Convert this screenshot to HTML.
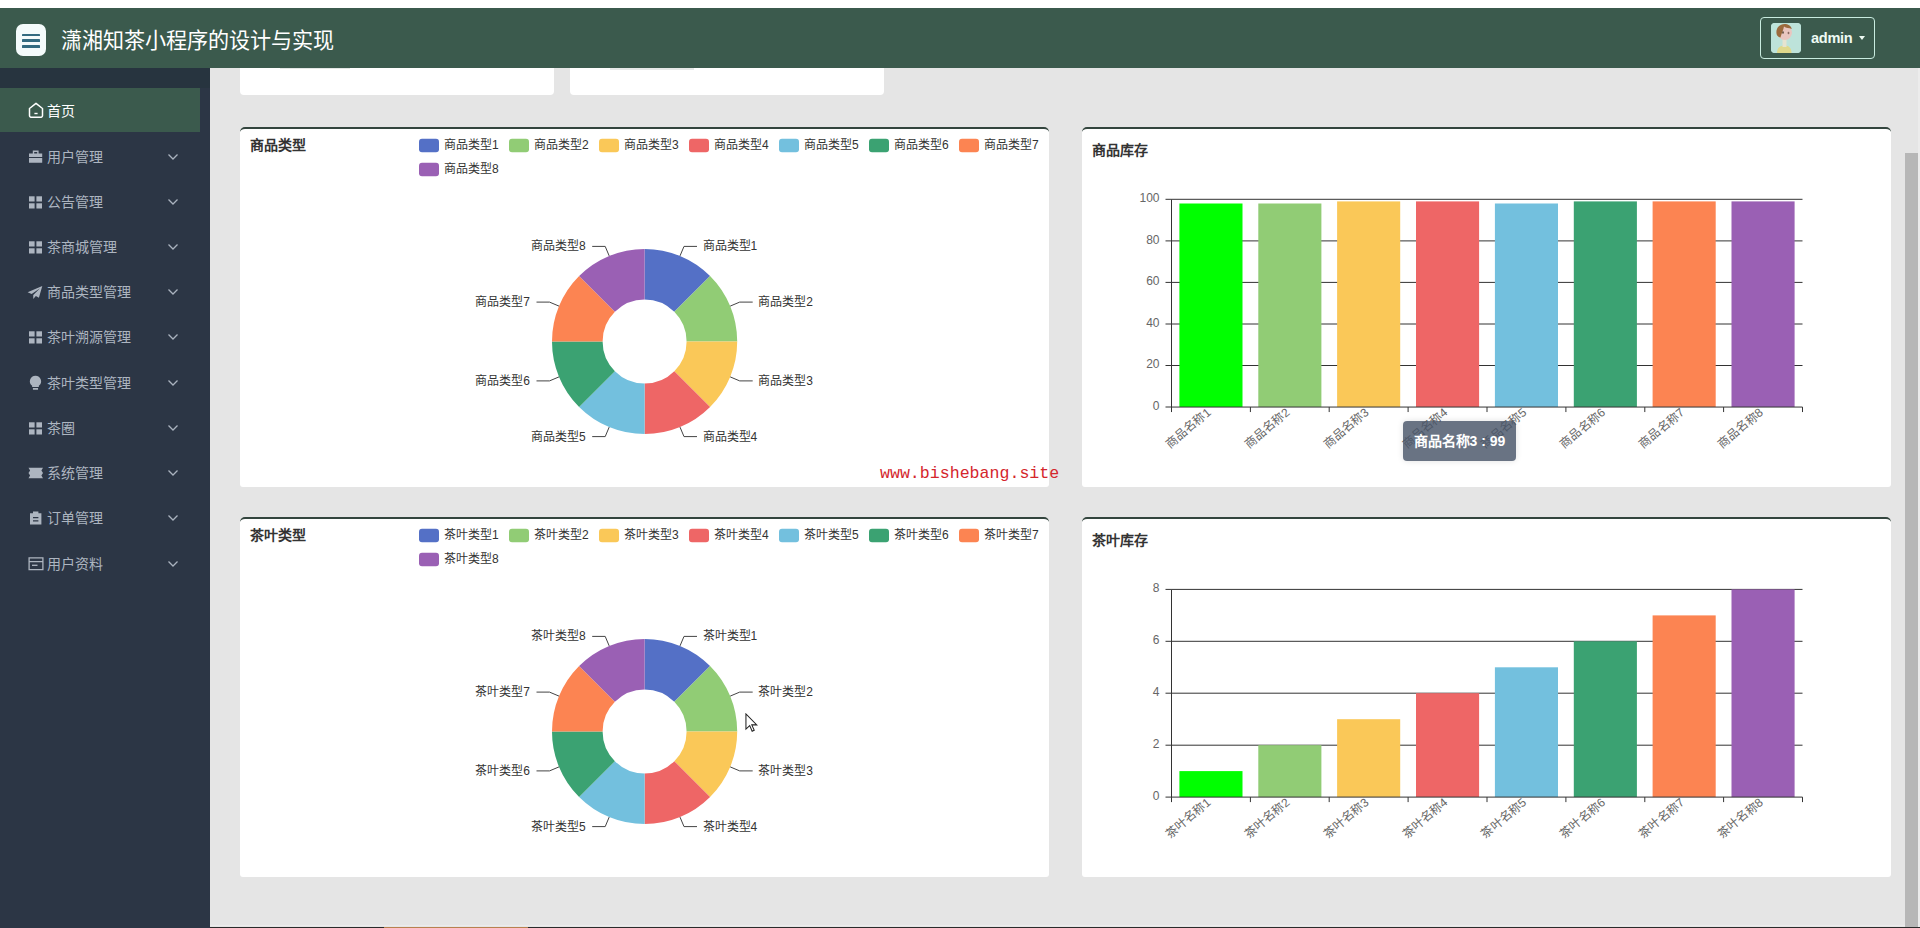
<!DOCTYPE html>
<html lang="zh-CN"><head><meta charset="utf-8"><title>dashboard</title>
<style>
*{box-sizing:border-box;margin:0;padding:0}
html,body{width:1920px;height:928px;overflow:hidden}
body{position:relative;background:#e5e5e5;font-family:"Liberation Sans",sans-serif;color:#333}
.strip{position:absolute;left:0;top:0;width:1920px;height:8px;background:#fff}
.hdr{position:absolute;left:0;top:8px;width:1920px;height:60px;background:#3b5a4d}
.mbtn{position:absolute;left:16px;top:16px;width:30px;height:32px;background:#f4fbfb;border-radius:7px}
.mbtn i{position:absolute;left:6.3px;width:17.6px;height:2.7px;border-radius:.6px;background:#336b80}
.ttl{position:absolute;left:61px;top:17.6px;font-size:21.1px;line-height:30px;color:#fff;letter-spacing:0;white-space:nowrap}
.adm{position:absolute;left:1760px;top:9px;width:115px;height:42px;border:1px solid #c9ece0;border-radius:4px}
.adm .av{position:absolute;left:10px;top:5px;width:30px;height:30px;border-radius:4px;background:#b8ddd6;overflow:hidden}
.adm .nm{position:absolute;left:50px;top:10px;font-size:14.6px;line-height:20px;color:#eefaf4;font-weight:bold;letter-spacing:-.3px}
.adm .ca{position:absolute;left:98px;top:18px;width:0;height:0;border:3.5px solid transparent;border-top:4px solid #eefaf4}
.side{position:absolute;left:0;top:68px;width:210px;height:860px;background:#2c3645}
.side .sh{position:absolute;left:0;top:0;width:210px;height:20px;background:#27343f}
.home{position:absolute;left:0;top:20px;width:200px;height:44px;background:#3b5a4d;color:#fff;font-size:14px}
.home span{position:absolute;left:47px;top:15px;line-height:16px}
.home svg{position:absolute;left:27.9px;top:14.4px}
.mi{position:absolute;left:0;width:200px;height:45px;color:#adb5c0;font-size:14px;margin-top:-68px}
.mi span{position:absolute;left:47px;top:14px;line-height:16px;white-space:nowrap}
.mi .ic{position:absolute;left:29px;top:15px;fill:#adb5c0;color:#adb5c0}
.mi .ar{position:absolute;left:167px;top:18px}
.tc{position:absolute;top:60px;height:35px;background:#fff;border-radius:0 0 4px 4px}
.card{position:absolute;width:809px;height:360px;background:#fff;border-top:2px solid #33453e;border-radius:5px 5px 3px 3px}
.ct{position:absolute;font-size:14px;font-weight:bold;line-height:16px;color:#333}
.wm{position:absolute;left:880px;top:464.2px;font-family:"Liberation Mono",monospace;font-size:16.6px;line-height:20px;color:#d4262c;white-space:nowrap}
.tip{position:absolute;left:1403px;top:421px;width:113px;height:40px;background:rgba(72,84,104,.82);box-shadow:0 0 6px rgba(0,0,0,.12);border-radius:4px;color:#fff;font-size:14px;font-weight:bold;line-height:40px;text-align:center;white-space:nowrap}
.sb{position:absolute;left:1905px;top:153px;width:13px;height:775px;background:#b7b7b7}
.sbt{position:absolute;left:1905px;top:68px;width:15px;height:860px;background:#e9e9e9}
svg text{font-family:"Liberation Sans",sans-serif}
.chart{position:absolute;left:0;top:0}
</style></head><body>
<div class="tc" style="left:240px;width:314px"></div>
<div class="tc" style="left:570px;width:314px"></div>
<div style="position:absolute;left:610px;top:68px;width:84px;height:2px;background:#e6e9e8"></div>
<div style="position:absolute;left:280px;top:68px;width:70px;height:1px;background:#e3e6e5"></div>
<div class="card" style="left:240px;top:127px"></div>
<div class="card" style="left:1082px;top:127px"></div>
<div class="card" style="left:240px;top:517px"></div>
<div class="card" style="left:1082px;top:517px"></div>
<div class="ct" style="left:250px;top:137px">商品类型</div>
<div class="ct" style="left:1092px;top:142px">商品库存</div>
<div class="ct" style="left:250px;top:527px">茶叶类型</div>
<div class="ct" style="left:1092px;top:532px">茶叶库存</div>
<svg class="chart" width="1920" height="928" viewBox="0 0 1920 928">
<rect x="419" y="138.7" width="20" height="13.6" rx="3" fill="#5470c6"/>
<text x="444" y="149" font-size="12" fill="#333">商品类型1</text>
<rect x="509" y="138.7" width="20" height="13.6" rx="3" fill="#91cc75"/>
<text x="534" y="149" font-size="12" fill="#333">商品类型2</text>
<rect x="599" y="138.7" width="20" height="13.6" rx="3" fill="#fac858"/>
<text x="624" y="149" font-size="12" fill="#333">商品类型3</text>
<rect x="689" y="138.7" width="20" height="13.6" rx="3" fill="#ee6666"/>
<text x="714" y="149" font-size="12" fill="#333">商品类型4</text>
<rect x="779" y="138.7" width="20" height="13.6" rx="3" fill="#73c0de"/>
<text x="804" y="149" font-size="12" fill="#333">商品类型5</text>
<rect x="869" y="138.7" width="20" height="13.6" rx="3" fill="#3ba272"/>
<text x="894" y="149" font-size="12" fill="#333">商品类型6</text>
<rect x="959" y="138.7" width="20" height="13.6" rx="3" fill="#fc8452"/>
<text x="984" y="149" font-size="12" fill="#333">商品类型7</text>
<rect x="419" y="162.7" width="20" height="13.6" rx="3" fill="#9a60b4"/>
<text x="444" y="173" font-size="12" fill="#333">商品类型8</text>
<path d="M644.60 248.90A92.6 92.6 0 0 1 710.08 276.02L674.30 311.80A42.0 42.0 0 0 0 644.60 299.50Z" fill="#5470c6"/>
<polyline points="680.0,255.9 684.0,246.4 697.0,246.4" fill="none" stroke="#444" stroke-width="1"/>
<text x="702.5" y="250.4" text-anchor="start" font-size="12" fill="#333">商品类型1</text>
<path d="M710.08 276.02A92.6 92.6 0 0 1 737.20 341.50L686.60 341.50A42.0 42.0 0 0 0 674.30 311.80Z" fill="#91cc75"/>
<polyline points="730.2,306.1 739.7,302.1 752.7,302.1" fill="none" stroke="#444" stroke-width="1"/>
<text x="758.2" y="306.1" text-anchor="start" font-size="12" fill="#333">商品类型2</text>
<path d="M737.20 341.50A92.6 92.6 0 0 1 710.08 406.98L674.30 371.20A42.0 42.0 0 0 0 686.60 341.50Z" fill="#fac858"/>
<polyline points="730.2,376.9 739.7,380.9 752.7,380.9" fill="none" stroke="#444" stroke-width="1"/>
<text x="758.2" y="384.9" text-anchor="start" font-size="12" fill="#333">商品类型3</text>
<path d="M710.08 406.98A92.6 92.6 0 0 1 644.60 434.10L644.60 383.50A42.0 42.0 0 0 0 674.30 371.20Z" fill="#ee6666"/>
<polyline points="680.0,427.1 684.0,436.6 697.0,436.6" fill="none" stroke="#444" stroke-width="1"/>
<text x="702.5" y="440.6" text-anchor="start" font-size="12" fill="#333">商品类型4</text>
<path d="M644.60 434.10A92.6 92.6 0 0 1 579.12 406.98L614.90 371.20A42.0 42.0 0 0 0 644.60 383.50Z" fill="#73c0de"/>
<polyline points="609.2,427.1 605.2,436.6 592.2,436.6" fill="none" stroke="#444" stroke-width="1"/>
<text x="585.7" y="440.6" text-anchor="end" font-size="12" fill="#333">商品类型5</text>
<path d="M579.12 406.98A92.6 92.6 0 0 1 552.00 341.50L602.60 341.50A42.0 42.0 0 0 0 614.90 371.20Z" fill="#3ba272"/>
<polyline points="559.0,376.9 549.5,380.9 536.5,380.9" fill="none" stroke="#444" stroke-width="1"/>
<text x="530.0" y="384.9" text-anchor="end" font-size="12" fill="#333">商品类型6</text>
<path d="M552.00 341.50A92.6 92.6 0 0 1 579.12 276.02L614.90 311.80A42.0 42.0 0 0 0 602.60 341.50Z" fill="#fc8452"/>
<polyline points="559.0,306.1 549.5,302.1 536.5,302.1" fill="none" stroke="#444" stroke-width="1"/>
<text x="530.0" y="306.1" text-anchor="end" font-size="12" fill="#333">商品类型7</text>
<path d="M579.12 276.02A92.6 92.6 0 0 1 644.60 248.90L644.60 299.50A42.0 42.0 0 0 0 614.90 311.80Z" fill="#9a60b4"/>
<polyline points="609.2,255.9 605.2,246.4 592.2,246.4" fill="none" stroke="#444" stroke-width="1"/>
<text x="585.7" y="250.4" text-anchor="end" font-size="12" fill="#333">商品类型8</text>
<rect x="419" y="528.7" width="20" height="13.6" rx="3" fill="#5470c6"/>
<text x="444" y="539" font-size="12" fill="#333">茶叶类型1</text>
<rect x="509" y="528.7" width="20" height="13.6" rx="3" fill="#91cc75"/>
<text x="534" y="539" font-size="12" fill="#333">茶叶类型2</text>
<rect x="599" y="528.7" width="20" height="13.6" rx="3" fill="#fac858"/>
<text x="624" y="539" font-size="12" fill="#333">茶叶类型3</text>
<rect x="689" y="528.7" width="20" height="13.6" rx="3" fill="#ee6666"/>
<text x="714" y="539" font-size="12" fill="#333">茶叶类型4</text>
<rect x="779" y="528.7" width="20" height="13.6" rx="3" fill="#73c0de"/>
<text x="804" y="539" font-size="12" fill="#333">茶叶类型5</text>
<rect x="869" y="528.7" width="20" height="13.6" rx="3" fill="#3ba272"/>
<text x="894" y="539" font-size="12" fill="#333">茶叶类型6</text>
<rect x="959" y="528.7" width="20" height="13.6" rx="3" fill="#fc8452"/>
<text x="984" y="539" font-size="12" fill="#333">茶叶类型7</text>
<rect x="419" y="552.7" width="20" height="13.6" rx="3" fill="#9a60b4"/>
<text x="444" y="563" font-size="12" fill="#333">茶叶类型8</text>
<path d="M644.60 638.90A92.6 92.6 0 0 1 710.08 666.02L674.30 701.80A42.0 42.0 0 0 0 644.60 689.50Z" fill="#5470c6"/>
<polyline points="680.0,645.9 684.0,636.4 697.0,636.4" fill="none" stroke="#444" stroke-width="1"/>
<text x="702.5" y="640.4" text-anchor="start" font-size="12" fill="#333">茶叶类型1</text>
<path d="M710.08 666.02A92.6 92.6 0 0 1 737.20 731.50L686.60 731.50A42.0 42.0 0 0 0 674.30 701.80Z" fill="#91cc75"/>
<polyline points="730.2,696.1 739.7,692.1 752.7,692.1" fill="none" stroke="#444" stroke-width="1"/>
<text x="758.2" y="696.1" text-anchor="start" font-size="12" fill="#333">茶叶类型2</text>
<path d="M737.20 731.50A92.6 92.6 0 0 1 710.08 796.98L674.30 761.20A42.0 42.0 0 0 0 686.60 731.50Z" fill="#fac858"/>
<polyline points="730.2,766.9 739.7,770.9 752.7,770.9" fill="none" stroke="#444" stroke-width="1"/>
<text x="758.2" y="774.9" text-anchor="start" font-size="12" fill="#333">茶叶类型3</text>
<path d="M710.08 796.98A92.6 92.6 0 0 1 644.60 824.10L644.60 773.50A42.0 42.0 0 0 0 674.30 761.20Z" fill="#ee6666"/>
<polyline points="680.0,817.1 684.0,826.6 697.0,826.6" fill="none" stroke="#444" stroke-width="1"/>
<text x="702.5" y="830.6" text-anchor="start" font-size="12" fill="#333">茶叶类型4</text>
<path d="M644.60 824.10A92.6 92.6 0 0 1 579.12 796.98L614.90 761.20A42.0 42.0 0 0 0 644.60 773.50Z" fill="#73c0de"/>
<polyline points="609.2,817.1 605.2,826.6 592.2,826.6" fill="none" stroke="#444" stroke-width="1"/>
<text x="585.7" y="830.6" text-anchor="end" font-size="12" fill="#333">茶叶类型5</text>
<path d="M579.12 796.98A92.6 92.6 0 0 1 552.00 731.50L602.60 731.50A42.0 42.0 0 0 0 614.90 761.20Z" fill="#3ba272"/>
<polyline points="559.0,766.9 549.5,770.9 536.5,770.9" fill="none" stroke="#444" stroke-width="1"/>
<text x="530.0" y="774.9" text-anchor="end" font-size="12" fill="#333">茶叶类型6</text>
<path d="M552.00 731.50A92.6 92.6 0 0 1 579.12 666.02L614.90 701.80A42.0 42.0 0 0 0 602.60 731.50Z" fill="#fc8452"/>
<polyline points="559.0,696.1 549.5,692.1 536.5,692.1" fill="none" stroke="#444" stroke-width="1"/>
<text x="530.0" y="696.1" text-anchor="end" font-size="12" fill="#333">茶叶类型7</text>
<path d="M579.12 666.02A92.6 92.6 0 0 1 644.60 638.90L644.60 689.50A42.0 42.0 0 0 0 614.90 701.80Z" fill="#9a60b4"/>
<polyline points="609.2,645.9 605.2,636.4 592.2,636.4" fill="none" stroke="#444" stroke-width="1"/>
<text x="585.7" y="640.4" text-anchor="end" font-size="12" fill="#333">茶叶类型8</text>
<line x1="1165.5" y1="407.0" x2="1171.5" y2="407.0" stroke="#333" stroke-width="1"/>
<text x="1159.5" y="409.9" text-anchor="end" font-size="12" fill="#666">0</text>
<line x1="1171.5" y1="365.5" x2="1802.5" y2="365.5" stroke="#333" stroke-width="1"/>
<line x1="1165.5" y1="365.5" x2="1171.5" y2="365.5" stroke="#333" stroke-width="1"/>
<text x="1159.5" y="368.4" text-anchor="end" font-size="12" fill="#666">20</text>
<line x1="1171.5" y1="324.0" x2="1802.5" y2="324.0" stroke="#333" stroke-width="1"/>
<line x1="1165.5" y1="324.0" x2="1171.5" y2="324.0" stroke="#333" stroke-width="1"/>
<text x="1159.5" y="326.9" text-anchor="end" font-size="12" fill="#666">40</text>
<line x1="1171.5" y1="282.4" x2="1802.5" y2="282.4" stroke="#333" stroke-width="1"/>
<line x1="1165.5" y1="282.4" x2="1171.5" y2="282.4" stroke="#333" stroke-width="1"/>
<text x="1159.5" y="285.3" text-anchor="end" font-size="12" fill="#666">60</text>
<line x1="1171.5" y1="240.9" x2="1802.5" y2="240.9" stroke="#333" stroke-width="1"/>
<line x1="1165.5" y1="240.9" x2="1171.5" y2="240.9" stroke="#333" stroke-width="1"/>
<text x="1159.5" y="243.8" text-anchor="end" font-size="12" fill="#666">80</text>
<line x1="1171.5" y1="199.3" x2="1802.5" y2="199.3" stroke="#333" stroke-width="1"/>
<line x1="1165.5" y1="199.3" x2="1171.5" y2="199.3" stroke="#333" stroke-width="1"/>
<text x="1159.5" y="202.2" text-anchor="end" font-size="12" fill="#666">100</text>
<rect x="1179.4" y="203.5" width="63.1" height="203.5" fill="#00ff00"/>
<rect x="1258.3" y="203.5" width="63.1" height="203.5" fill="#91cc75"/>
<rect x="1337.1" y="201.4" width="63.1" height="205.6" fill="#fac858"/>
<rect x="1416.0" y="201.4" width="63.1" height="205.6" fill="#ee6666"/>
<rect x="1494.9" y="203.5" width="63.1" height="203.5" fill="#73c0de"/>
<rect x="1573.8" y="201.4" width="63.1" height="205.6" fill="#3ba272"/>
<rect x="1652.6" y="201.4" width="63.1" height="205.6" fill="#fc8452"/>
<rect x="1731.5" y="201.4" width="63.1" height="205.6" fill="#9a60b4"/>
<line x1="1171.5" y1="199.35" x2="1171.5" y2="407.04999999999995" stroke="#333" stroke-width="1"/>
<line x1="1171.5" y1="407.04999999999995" x2="1802.5" y2="407.04999999999995" stroke="#333" stroke-width="1"/>
<line x1="1171.5" y1="407.04999999999995" x2="1171.5" y2="412.04999999999995" stroke="#333" stroke-width="1"/>
<line x1="1250.4" y1="407.04999999999995" x2="1250.4" y2="412.04999999999995" stroke="#333" stroke-width="1"/>
<line x1="1329.2" y1="407.04999999999995" x2="1329.2" y2="412.04999999999995" stroke="#333" stroke-width="1"/>
<line x1="1408.1" y1="407.04999999999995" x2="1408.1" y2="412.04999999999995" stroke="#333" stroke-width="1"/>
<line x1="1487.0" y1="407.04999999999995" x2="1487.0" y2="412.04999999999995" stroke="#333" stroke-width="1"/>
<line x1="1565.9" y1="407.04999999999995" x2="1565.9" y2="412.04999999999995" stroke="#333" stroke-width="1"/>
<line x1="1644.8" y1="407.04999999999995" x2="1644.8" y2="412.04999999999995" stroke="#333" stroke-width="1"/>
<line x1="1723.6" y1="407.04999999999995" x2="1723.6" y2="412.04999999999995" stroke="#333" stroke-width="1"/>
<line x1="1802.5" y1="407.04999999999995" x2="1802.5" y2="412.04999999999995" stroke="#333" stroke-width="1"/>
<text x="1207.9" y="409.0" text-anchor="end" font-size="12" fill="#666" transform="rotate(-40 1207.9 409.0)" dy="6">商品名称1</text>
<text x="1286.8" y="409.0" text-anchor="end" font-size="12" fill="#666" transform="rotate(-40 1286.8 409.0)" dy="6">商品名称2</text>
<text x="1365.7" y="409.0" text-anchor="end" font-size="12" fill="#666" transform="rotate(-40 1365.7 409.0)" dy="6">商品名称3</text>
<text x="1444.6" y="409.0" text-anchor="end" font-size="12" fill="#666" transform="rotate(-40 1444.6 409.0)" dy="6">商品名称4</text>
<text x="1523.4" y="409.0" text-anchor="end" font-size="12" fill="#666" transform="rotate(-40 1523.4 409.0)" dy="6">商品名称5</text>
<text x="1602.3" y="409.0" text-anchor="end" font-size="12" fill="#666" transform="rotate(-40 1602.3 409.0)" dy="6">商品名称6</text>
<text x="1681.2" y="409.0" text-anchor="end" font-size="12" fill="#666" transform="rotate(-40 1681.2 409.0)" dy="6">商品名称7</text>
<text x="1760.1" y="409.0" text-anchor="end" font-size="12" fill="#666" transform="rotate(-40 1760.1 409.0)" dy="6">商品名称8</text>
<line x1="1165.5" y1="797.1" x2="1171.5" y2="797.1" stroke="#333" stroke-width="1"/>
<text x="1159.5" y="800.0" text-anchor="end" font-size="12" fill="#666">0</text>
<line x1="1171.5" y1="745.2" x2="1802.5" y2="745.2" stroke="#333" stroke-width="1"/>
<line x1="1165.5" y1="745.2" x2="1171.5" y2="745.2" stroke="#333" stroke-width="1"/>
<text x="1159.5" y="748.1" text-anchor="end" font-size="12" fill="#666">2</text>
<line x1="1171.5" y1="693.2" x2="1802.5" y2="693.2" stroke="#333" stroke-width="1"/>
<line x1="1165.5" y1="693.2" x2="1171.5" y2="693.2" stroke="#333" stroke-width="1"/>
<text x="1159.5" y="696.1" text-anchor="end" font-size="12" fill="#666">4</text>
<line x1="1171.5" y1="641.3" x2="1802.5" y2="641.3" stroke="#333" stroke-width="1"/>
<line x1="1165.5" y1="641.3" x2="1171.5" y2="641.3" stroke="#333" stroke-width="1"/>
<text x="1159.5" y="644.2" text-anchor="end" font-size="12" fill="#666">6</text>
<line x1="1171.5" y1="589.4" x2="1802.5" y2="589.4" stroke="#333" stroke-width="1"/>
<line x1="1165.5" y1="589.4" x2="1171.5" y2="589.4" stroke="#333" stroke-width="1"/>
<text x="1159.5" y="592.3" text-anchor="end" font-size="12" fill="#666">8</text>
<rect x="1179.4" y="771.1" width="63.1" height="26.0" fill="#00ff00"/>
<rect x="1258.3" y="745.2" width="63.1" height="51.9" fill="#91cc75"/>
<rect x="1337.1" y="719.2" width="63.1" height="77.9" fill="#fac858"/>
<rect x="1416.0" y="693.2" width="63.1" height="103.8" fill="#ee6666"/>
<rect x="1494.9" y="667.3" width="63.1" height="129.8" fill="#73c0de"/>
<rect x="1573.8" y="641.3" width="63.1" height="155.8" fill="#3ba272"/>
<rect x="1652.6" y="615.4" width="63.1" height="181.7" fill="#fc8452"/>
<rect x="1731.5" y="589.4" width="63.1" height="207.7" fill="#9a60b4"/>
<line x1="1171.5" y1="589.4" x2="1171.5" y2="797.0999999999999" stroke="#333" stroke-width="1"/>
<line x1="1171.5" y1="797.0999999999999" x2="1802.5" y2="797.0999999999999" stroke="#333" stroke-width="1"/>
<line x1="1171.5" y1="797.0999999999999" x2="1171.5" y2="802.0999999999999" stroke="#333" stroke-width="1"/>
<line x1="1250.4" y1="797.0999999999999" x2="1250.4" y2="802.0999999999999" stroke="#333" stroke-width="1"/>
<line x1="1329.2" y1="797.0999999999999" x2="1329.2" y2="802.0999999999999" stroke="#333" stroke-width="1"/>
<line x1="1408.1" y1="797.0999999999999" x2="1408.1" y2="802.0999999999999" stroke="#333" stroke-width="1"/>
<line x1="1487.0" y1="797.0999999999999" x2="1487.0" y2="802.0999999999999" stroke="#333" stroke-width="1"/>
<line x1="1565.9" y1="797.0999999999999" x2="1565.9" y2="802.0999999999999" stroke="#333" stroke-width="1"/>
<line x1="1644.8" y1="797.0999999999999" x2="1644.8" y2="802.0999999999999" stroke="#333" stroke-width="1"/>
<line x1="1723.6" y1="797.0999999999999" x2="1723.6" y2="802.0999999999999" stroke="#333" stroke-width="1"/>
<line x1="1802.5" y1="797.0999999999999" x2="1802.5" y2="802.0999999999999" stroke="#333" stroke-width="1"/>
<text x="1207.9" y="799.1" text-anchor="end" font-size="12" fill="#666" transform="rotate(-40 1207.9 799.1)" dy="6">茶叶名称1</text>
<text x="1286.8" y="799.1" text-anchor="end" font-size="12" fill="#666" transform="rotate(-40 1286.8 799.1)" dy="6">茶叶名称2</text>
<text x="1365.7" y="799.1" text-anchor="end" font-size="12" fill="#666" transform="rotate(-40 1365.7 799.1)" dy="6">茶叶名称3</text>
<text x="1444.6" y="799.1" text-anchor="end" font-size="12" fill="#666" transform="rotate(-40 1444.6 799.1)" dy="6">茶叶名称4</text>
<text x="1523.4" y="799.1" text-anchor="end" font-size="12" fill="#666" transform="rotate(-40 1523.4 799.1)" dy="6">茶叶名称5</text>
<text x="1602.3" y="799.1" text-anchor="end" font-size="12" fill="#666" transform="rotate(-40 1602.3 799.1)" dy="6">茶叶名称6</text>
<text x="1681.2" y="799.1" text-anchor="end" font-size="12" fill="#666" transform="rotate(-40 1681.2 799.1)" dy="6">茶叶名称7</text>
<text x="1760.1" y="799.1" text-anchor="end" font-size="12" fill="#666" transform="rotate(-40 1760.1 799.1)" dy="6">茶叶名称8</text>
</svg>
<div class="tip">商品名称3 : 99</div>
<div class="wm">www.bishebang.site</div>
<div class="sb"></div><div style="position:absolute;left:1918px;top:68px;width:2px;height:860px;background:#ececec"></div>
<svg style="position:absolute;left:744.9px;top:712.8px" width="13.2" height="19.8" viewBox="0 0 14 21"><path d="M1 1v16l4-3.6 2.6 6 2.2-1-2.6-5.8H12.5z" fill="#fff" stroke="#222" stroke-width="1.1"/></svg>
<div class="side"><div class="sh"></div>
<div class="home"><svg width="16" height="16" viewBox="0 0 16 16"><path d="M8 1.300L1.500 6.500V13.500a1.800 1.800 0 0 0 1.800 1.800h9.400a1.800 1.800 0 0 0 1.800-1.800V6.500z" fill="none" stroke="#fff" stroke-width="1.500" stroke-linejoin="round"/><path d="M6.400 11.500h3.200" stroke="#fff" stroke-width="1.400"/></svg><span>首页</span></div>
<div class="mi" style="top:134.5px"><svg class="ic" viewBox="0 0 14 14" width="14" height="14" style="overflow:visible"><path d="M3.8 3.4V.6h5.8v2.800h3.600v3.500H0V3.4zM5.200 3.4h3V1.900h-3zM0 7.900h13.200v4.800H0z" fill-rule="evenodd"/></svg><span>用户管理</span><svg class="ar" viewBox="0 0 12 8" width="12" height="8"><path d="M1.5 1.5L6 6l4.5-4.5" fill="none" stroke="#aab3bf" stroke-width="1.3"/></svg></div>
<div class="mi" style="top:179.7px"><svg class="ic" viewBox="0 0 14 14" width="14" height="14" style="overflow:visible"><rect x="0" y="1.3" width="5.6" height="5.2" /><rect x="7.4" y="1.3" width="5.6" height="5.2"/><rect x="0" y="8.3" width="5.6" height="5.2"/><rect x="7.4" y="8.3" width="5.6" height="5.2"/></svg><span>公告管理</span><svg class="ar" viewBox="0 0 12 8" width="12" height="8"><path d="M1.5 1.5L6 6l4.5-4.5" fill="none" stroke="#aab3bf" stroke-width="1.3"/></svg></div>
<div class="mi" style="top:224.9px"><svg class="ic" viewBox="0 0 14 14" width="14" height="14" style="overflow:visible"><rect x="0" y="1.3" width="5.6" height="5.2" /><rect x="7.4" y="1.3" width="5.6" height="5.2"/><rect x="0" y="8.3" width="5.6" height="5.2"/><rect x="7.4" y="8.3" width="5.6" height="5.2"/></svg><span>茶商城管理</span><svg class="ar" viewBox="0 0 12 8" width="12" height="8"><path d="M1.5 1.5L6 6l4.5-4.5" fill="none" stroke="#aab3bf" stroke-width="1.3"/></svg></div>
<div class="mi" style="top:270.2px"><svg class="ic" viewBox="0 0 14 14" width="14" height="14" style="overflow:visible"><path transform="translate(-1.4 -0.200) scale(1.130)" d="M13 1L0 6.500l3.600 1.600L11 3 5 9v3.600l2.300-2.600 2.700 1.400z"/></svg><span>商品类型管理</span><svg class="ar" viewBox="0 0 12 8" width="12" height="8"><path d="M1.5 1.5L6 6l4.5-4.5" fill="none" stroke="#aab3bf" stroke-width="1.3"/></svg></div>
<div class="mi" style="top:315.4px"><svg class="ic" viewBox="0 0 14 14" width="14" height="14" style="overflow:visible"><rect x="0" y="1.3" width="5.6" height="5.2" /><rect x="7.4" y="1.3" width="5.6" height="5.2"/><rect x="0" y="8.3" width="5.6" height="5.2"/><rect x="7.4" y="8.3" width="5.6" height="5.2"/></svg><span>茶叶溯源管理</span><svg class="ar" viewBox="0 0 12 8" width="12" height="8"><path d="M1.5 1.5L6 6l4.5-4.5" fill="none" stroke="#aab3bf" stroke-width="1.3"/></svg></div>
<div class="mi" style="top:360.6px"><svg class="ic" viewBox="0 0 14 14" width="14" height="14" style="overflow:visible"><path transform="translate(-0.800 -0.900) scale(1.120)" d="M6.500 0.500a5 5 0 0 0-3 9v1.200h6V9.500a5 5 0 0 0-3-9zM4.200 11.600h4.600v1.400H4.200z"/></svg><span>茶叶类型管理</span><svg class="ar" viewBox="0 0 12 8" width="12" height="8"><path d="M1.5 1.5L6 6l4.5-4.5" fill="none" stroke="#aab3bf" stroke-width="1.3"/></svg></div>
<div class="mi" style="top:405.8px"><svg class="ic" viewBox="0 0 14 14" width="14" height="14" style="overflow:visible"><rect x="0" y="1.3" width="5.6" height="5.2" /><rect x="7.4" y="1.3" width="5.6" height="5.2"/><rect x="0" y="8.3" width="5.6" height="5.2"/><rect x="7.4" y="8.3" width="5.6" height="5.2"/></svg><span>茶圈</span><svg class="ar" viewBox="0 0 12 8" width="12" height="8"><path d="M1.5 1.5L6 6l4.5-4.5" fill="none" stroke="#aab3bf" stroke-width="1.3"/></svg></div>
<div class="mi" style="top:451.0px"><svg class="ic" viewBox="0 0 14 14" width="14" height="14" style="overflow:visible"><path d="M-.5 1.800h14.500l-1.600 2.700 1.600 2.500-1.600 2.600 1.600 2.600H-.5l1.600-2.600L-.5 7l1.600-2.500z"/></svg><span>系统管理</span><svg class="ar" viewBox="0 0 12 8" width="12" height="8"><path d="M1.5 1.5L6 6l4.5-4.5" fill="none" stroke="#aab3bf" stroke-width="1.3"/></svg></div>
<div class="mi" style="top:496.3px"><svg class="ic" viewBox="0 0 14 14" width="14" height="14" style="overflow:visible"><path d="M1 2.300H4V.6h5.400v1.700h3V13.600H1zM4 6v1.300h5.400V6zM4 9.200v1.300h5.400V9.200z" fill-rule="evenodd"/></svg><span>订单管理</span><svg class="ar" viewBox="0 0 12 8" width="12" height="8"><path d="M1.5 1.5L6 6l4.5-4.5" fill="none" stroke="#aab3bf" stroke-width="1.3"/></svg></div>
<div class="mi" style="top:541.5px"><svg class="ic" viewBox="0 0 14 14" width="14" height="14" style="overflow:visible"><path d="M.1 .9h13.800v11.700H.1zM.1 4.600h13.800" fill="none" stroke="currentColor" stroke-width="1.300"/><path d="M3 8.300h5.500" stroke="currentColor" stroke-width="1.300"/></svg><span>用户资料</span><svg class="ar" viewBox="0 0 12 8" width="12" height="8"><path d="M1.5 1.5L6 6l4.5-4.5" fill="none" stroke="#aab3bf" stroke-width="1.3"/></svg></div>
</div>
<div class="hdr">
<div class="mbtn"><i style="top:9.6px"></i><i style="top:15.4px"></i><i style="top:21.2px"></i></div>
<div class="ttl">潇湘知茶小程序的设计与实现</div>
<div class="adm"><div class="av"><svg width="30" height="30" viewBox="0 0 30 30"><defs><filter id="bl" x="-20%" y="-20%" width="140%" height="140%"><feGaussianBlur stdDeviation="0.7"/></filter></defs><rect width="30" height="30" fill="#bde3da"/><g filter="url(#bl)"><path d="M6 30c0-5 3-7.500 7.500-7.500s7 2.500 7 7.500z" fill="#dfd98c"/><rect x="11.500" y="15" width="4" height="9" fill="#e6e4cf"/><ellipse cx="13.800" cy="9.300" rx="7.200" ry="7.600" fill="#e9c6c0"/><path d="M5.500 10.500c-.8-6 3.500-9.500 8-9.500 3.500 0 6.500 1.800 7.300 5-2.800-1.300-5.800-.8-7.800-2.500-.5 3.500-2.500 6.500-3.500 11-2.500-.5-3.700-2-4-4z" fill="#9b6b3e"/><ellipse cx="12" cy="9.500" rx="1" ry="1.300" fill="#6e5a4a"/><ellipse cx="17.500" cy="10" rx=".9" ry="1.200" fill="#8a6a62"/></g></svg></div><div class="nm">admin</div><div class="ca"></div></div>
</div>
<div class="strip"></div>
<div style="position:absolute;left:210px;top:927px;width:1710px;height:1px;background:#2b2b2b"></div>
<div style="position:absolute;left:384px;top:927px;width:144px;height:1px;background:#b8814f"></div>
<div style="position:absolute;left:210px;top:925px;width:1695px;height:1px;background:#ececec"></div>
</body></html>
